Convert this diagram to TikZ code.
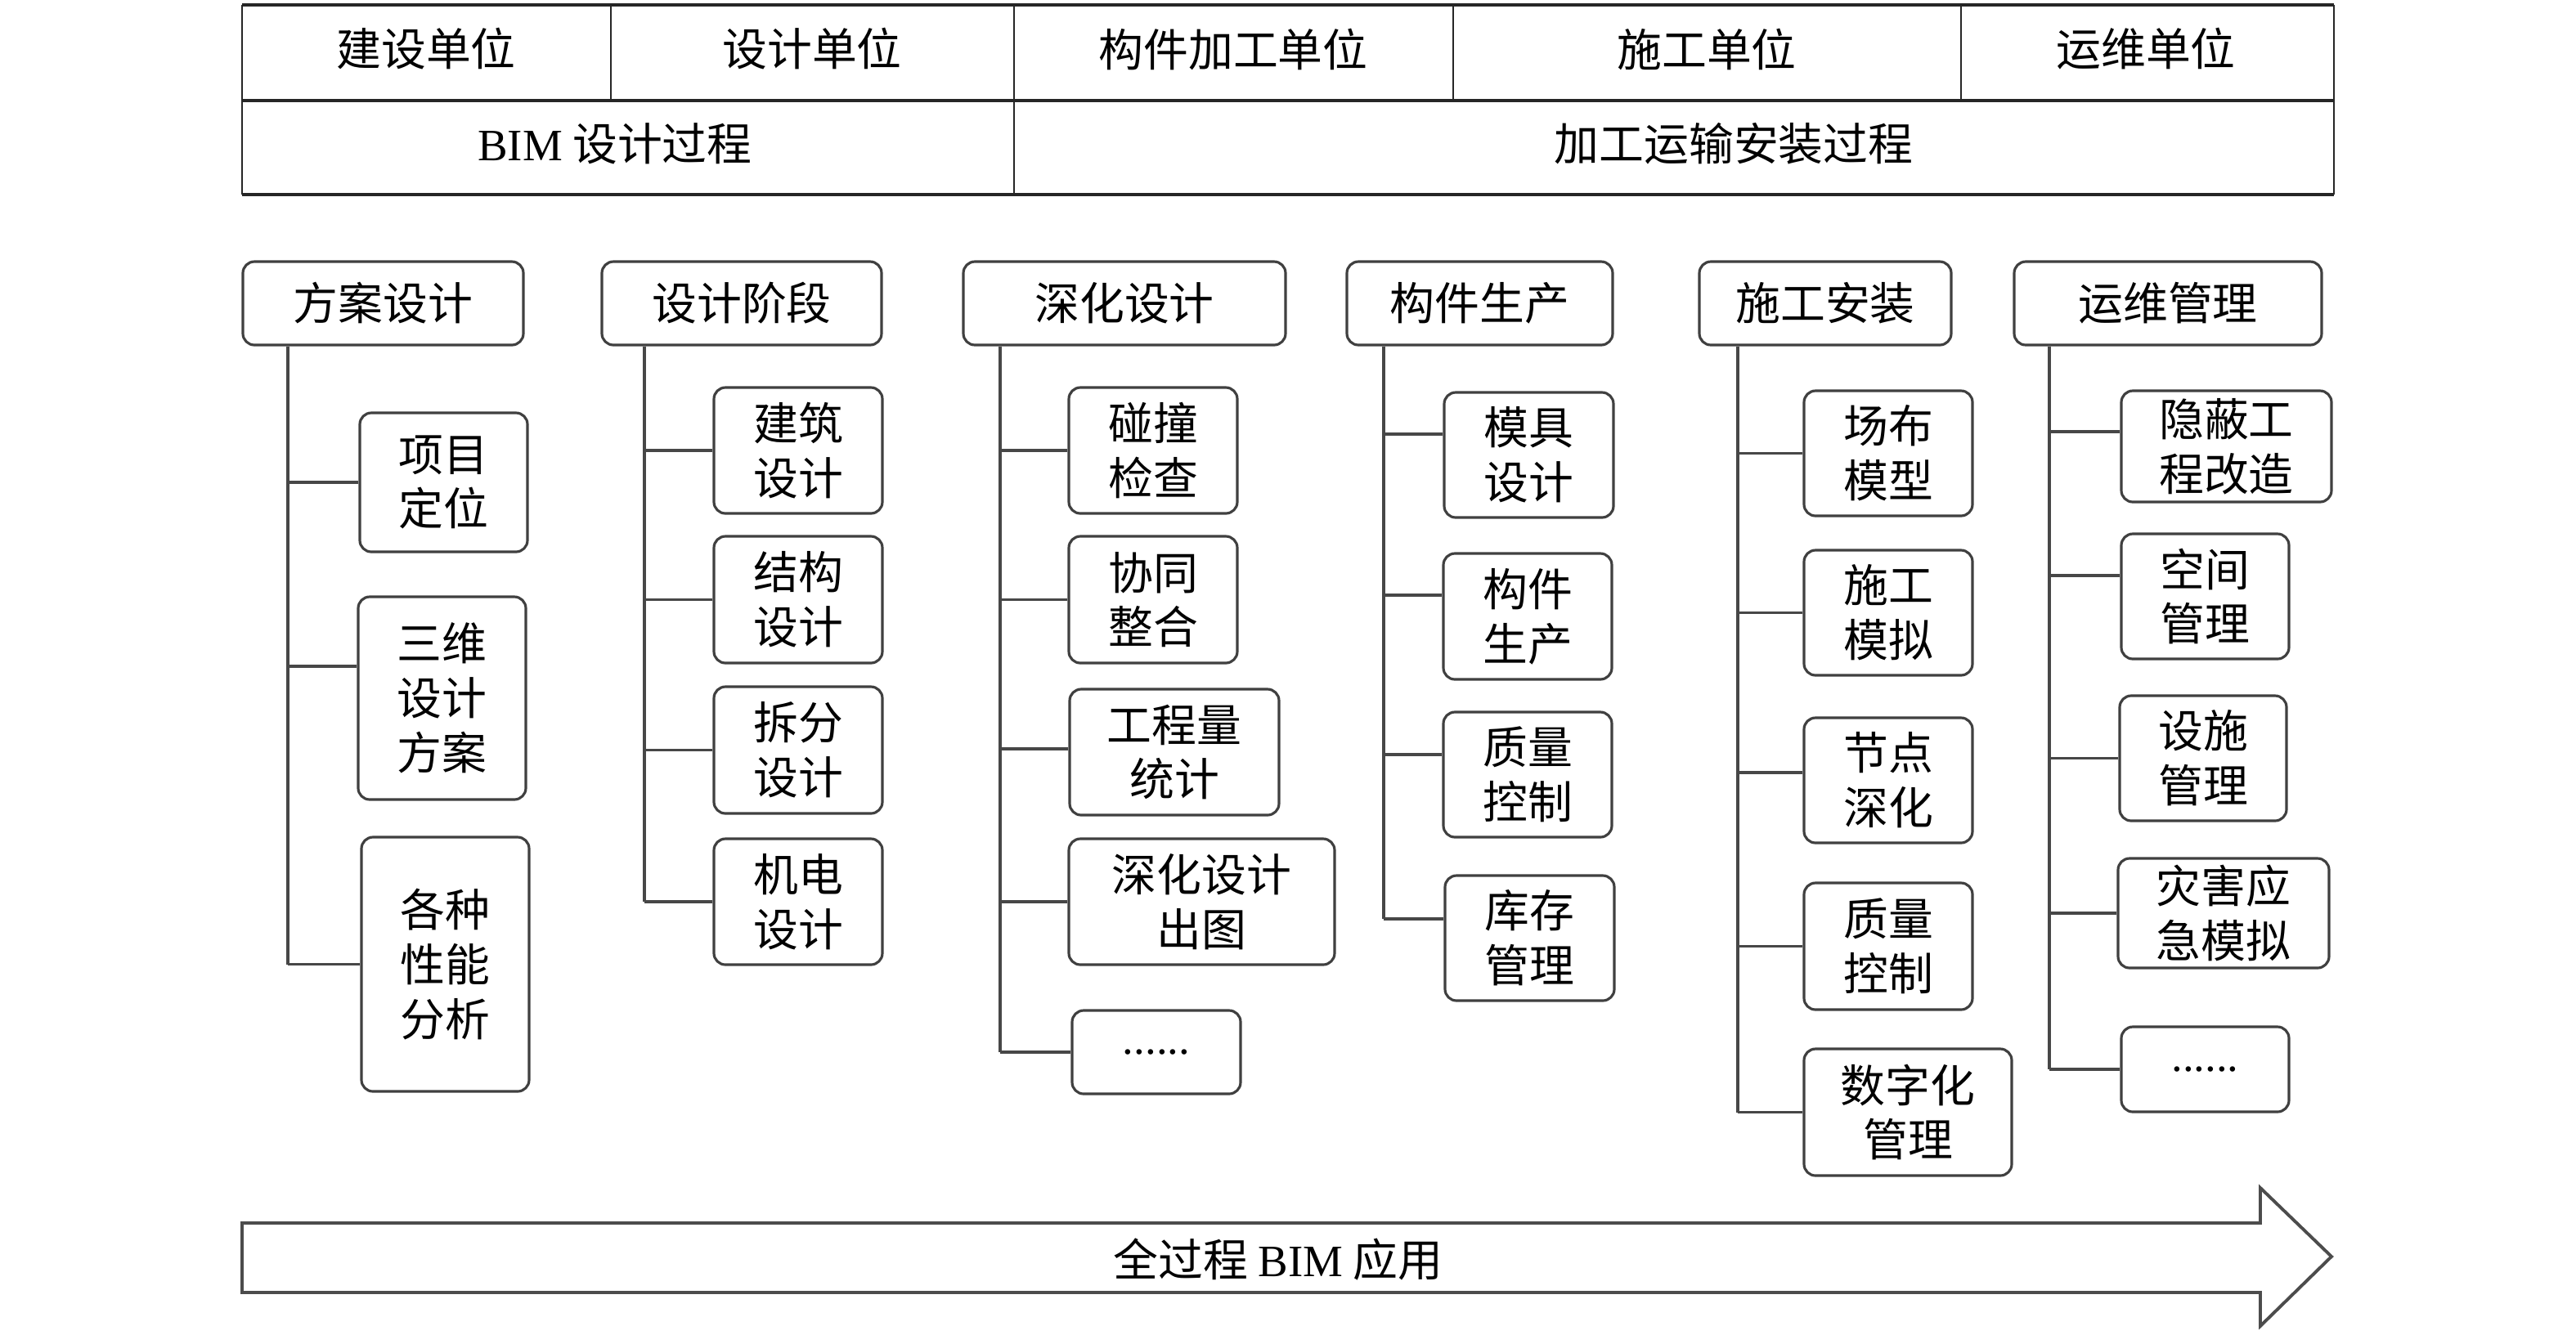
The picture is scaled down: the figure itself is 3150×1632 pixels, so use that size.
\documentclass[tikz,border=0pt]{standalone}
\usepackage{fontspec}
\setmainfont{Noto Sans CJK SC}
\newfontfamily\lat{Liberation Serif}
\begin{document}
\begin{tikzpicture}[x=0.01cm,y=-0.01cm,
  txt/.style={font=\fontsize{15.6pt}{19pt}\selectfont, align=center, inner sep=0pt},
  box/.style={txt, draw=black!75, line width=0.9pt, rounded corners=4pt, fill=white},
  conn/.style={draw=black!72, line width=0.9pt},
  hline/.style={draw=black!85, line width=1.2pt},
  vline/.style={draw=black!85, line width=0.6pt}]
\useasboundingbox (0,0) rectangle (3150,1632);
\newcommand\bx[6]{\node[box, minimum width=#4*0.01cm, minimum height=#5*0.01cm] (#1) at (#2,#3) {#6};}
\newcommand\brn[3]{\coordinate (#2b) at ([yshift=#3*0.01cm]#2.west); \draw[conn] (#1 |- #2b) -- (#2b);}
% ---- top table ----
\draw[hline] (296,6) -- (2854,6);
\draw[hline] (296,123) -- (2854,123);
\draw[hline] (296,238) -- (2854,238);
\draw[vline] (296,6) -- (296,238);
\draw[vline] (2854,6) -- (2854,238);
\draw[vline] (747,6) -- (747,123);
\draw[vline] (1240,6) -- (1240,238);
\draw[vline] (1777,6) -- (1777,123);
\draw[vline] (2398,6) -- (2398,123);
\node[txt] (u1) at (521,60) {建设单位};
\node[txt] (u2) at (993,60) {设计单位};
\node[txt] (u3) at (1508,60) {构件加工单位};
\node[txt] (u4) at (2087,60) {施工单位};
\node[txt] (u5) at (2624,60) {运维单位};
\node[txt] (p1) at (752,176) {{\lat BIM} 设计过程};
\node[txt] (p2) at (2120,176) {加工运输安装过程};
% ---- headers ----
\bx{h1}{468.5}{371}{343}{102}{方案设计}
\bx{h2}{907}{371}{342}{102}{设计阶段}
\bx{h3}{1375}{371}{394}{102}{深化设计}
\bx{h4}{1809.5}{371}{325}{102}{构件生产}
\bx{h5}{2232}{371}{308}{102}{施工安装}
\bx{h6}{2651}{371}{376}{102}{运维管理}
% ---- children ----
\bx{c11}{542.5}{590}{205}{170}{项目\\定位}
\bx{c12}{540.5}{854}{205}{248}{三维\\设计\\方案}
\bx{c13}{544.5}{1179.5}{205}{311}{各种\\性能\\分析}
\bx{c21}{976}{551}{206}{154}{建筑\\设计}
\bx{c22}{976}{733.5}{206}{155}{结构\\设计}
\bx{c23}{976}{917.5}{206}{155}{拆分\\设计}
\bx{c24}{976}{1103}{206}{154}{机电\\设计}
\bx{c31}{1410}{551}{206}{154}{碰撞\\检查}
\bx{c32}{1410}{733.5}{206}{155}{协同\\整合}
\bx{c33}{1436}{920}{256}{154}{工程量\\统计}
\bx{c34}{1469.5}{1103}{325}{154}{深化设计\\出图}
\bx{c35}{1414}{1287}{206}{102}{{\lat ......}}
\bx{c41}{1869.5}{556.5}{207}{153}{模具\\设计}
\bx{c42}{1868}{754}{206}{154}{构件\\生产}
\bx{c43}{1868}{947.5}{206}{153}{质量\\控制}
\bx{c44}{1870.5}{1147.5}{207}{153}{库存\\管理}
\bx{c51}{2309}{554.5}{206}{153}{场布\\模型}
\bx{c52}{2309}{749.5}{206}{153}{施工\\模拟}
\bx{c53}{2309}{954.5}{206}{153}{节点\\深化}
\bx{c54}{2309}{1157.5}{206}{155}{质量\\控制}
\bx{c55}{2333}{1360.5}{254}{155}{数字化\\管理}
\bx{c61}{2722.5}{546}{257}{136}{隐蔽工\\程改造}
\bx{c62}{2696.5}{729.5}{205}{153}{空间\\管理}
\bx{c63}{2694}{927.5}{204}{153}{设施\\管理}
\bx{c64}{2719}{1117}{258}{134}{灾害应\\急模拟}
\bx{c65}{2696.5}{1308}{205}{104}{{\lat ......}}
% ---- trunks ----
\coordinate (t1) at (352,0);
\coordinate (t2) at (788,0);
\coordinate (t3) at (1223,0);
\coordinate (t4) at (1692,0);
\coordinate (t5) at (2125,0);
\coordinate (t6) at (2506,0);
\brn{t1}{c11}{0} \brn{t1}{c12}{39} \brn{t1}{c13}{0}
\brn{t2}{c21}{0} \brn{t2}{c22}{0} \brn{t2}{c23}{0} \brn{t2}{c24}{0}
\brn{t3}{c31}{0} \brn{t3}{c32}{0} \brn{t3}{c33}{4} \brn{t3}{c34}{0} \brn{t3}{c35}{0}
\brn{t4}{c41}{25.5} \brn{t4}{c42}{26} \brn{t4}{c43}{24.5} \brn{t4}{c44}{23.5}
\brn{t5}{c51}{0} \brn{t5}{c52}{0} \brn{t5}{c53}{9.5} \brn{t5}{c54}{0} \brn{t5}{c55}{0}
\brn{t6}{c61}{18} \brn{t6}{c62}{25.5} \brn{t6}{c63}{0} \brn{t6}{c64}{0} \brn{t6}{c65}{0}
\draw[conn] (h1.south -| t1) -- (t1 |- c13b);
\draw[conn] (h2.south -| t2) -- (t2 |- c24b);
\draw[conn] (h3.south -| t3) -- (t3 |- c35b);
\draw[conn] (h4.south -| t4) -- (t4 |- c44b);
\draw[conn] (h5.south -| t5) -- (t5 |- c55b);
\draw[conn] (h6.south -| t6) -- (t6 |- c65b);
% ---- bottom arrow ----
\draw[draw=black!70, line width=1.1pt, line join=miter]
  (296,1496) -- (2764,1496) -- (2764,1453) -- (2851,1537) -- (2764,1622) -- (2764,1581) -- (296,1581) -- cycle;
\node[txt] (all) at (1563,1541) {全过程 {\lat BIM} 应用};
\end{tikzpicture}
\end{document}
